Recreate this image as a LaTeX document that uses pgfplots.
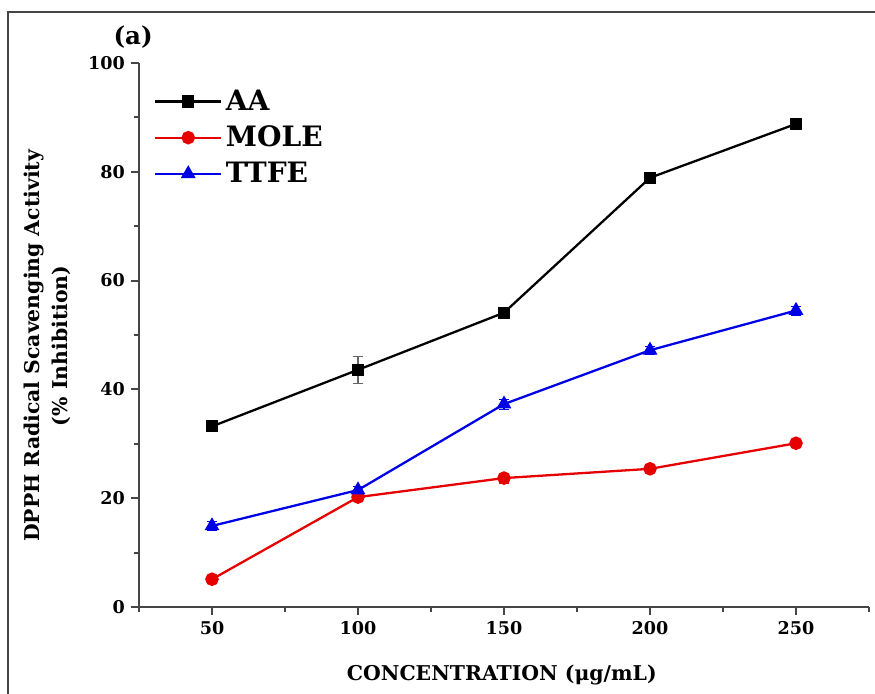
\documentclass[border=0pt]{standalone}
\usepackage{fontspec}
\setmainfont{DejaVu Serif}
\usepackage{pgfplots}
\pgfplotsset{compat=1.18}

\definecolor{aacol}{RGB}{0,0,0}
\definecolor{molecol}{RGB}{230,0,0}
\definecolor{ttfecol}{RGB}{0,0,230}
\definecolor{axcol}{RGB}{70,70,70}

\begin{document}
\begin{tikzpicture}[x=1cm,y=1cm]
% page = 875 x 693 px, 1 px = 0.02 cm, axis origin at px (139,607)
\useasboundingbox (-2.78,-1.72) rectangle (14.72,12.14);
\draw[axcol, line width=1.2pt] (-2.62,-1.8) -- (-2.62,11.9) -- (14.8,11.9);

\begin{axis}[
    scale only axis,
    width=14.6cm,
    height=10.88cm,
    xmin=25, xmax=275,
    ymin=0, ymax=100,
    axis x line*=bottom,
    axis y line*=left,
    axis line style={axcol, line width=1.1pt},
    xtick={50,100,150,200,250},
    minor xtick={25,75,125,175,225,275},
    ytick={0,20,40,60,80,100},
    minor ytick={10,30,50,70,90},
    tick align=outside,
    major tick length=8pt*0.567,
    minor tick length=5pt*0.567,
    tick style={axcol, line width=1.1pt},
    tick label style={font=\bfseries\fontsize{10}{12}\selectfont},
    /pgf/number format/assume math mode=true,
    xlabel={CONCENTRATION (μg/mL)},
    ylabel={DPPH Radical Scavenging Activity\\(\% Inhibition)},
    label style={font=\bfseries\fontsize{11.6}{16}\selectfont},
    xlabel style={at={(axis description cs:0.497,-0.125)}, anchor=center},
    ylabel style={at={(axis description cs:-0.126,0.48)}, anchor=center, align=center, rotate=0},
    legend cell align=left,
    legend style={draw=none, fill=none, at={(axis description cs:0.013,0.964)}, anchor=north west,
        font=\bfseries\fontsize{16}{18}\selectfont, row sep=3.3pt},
    legend image code/.code={\draw[mark repeat=2,mark phase=2,#1] plot coordinates {(0cm,0cm)(0.66cm,0cm)(1.32cm,0cm)};},
    clip=false,
]
\addplot[aacol, line width=1.3pt, mark=square*, mark size=2.8pt,
    error bars/.cd, y dir=both, y explicit, error bar style={line width=0.6pt, color=black!60}, error mark options={rotate=90, mark size=3pt, color=black!60}]
    coordinates {(50,33.2) +- (0,1.0) (100,43.6) +- (0,2.4) (150,54.1) +- (0,0.7) (200,78.9) +- (0,1.0) (250,88.8) +- (0,1.0)};
\addlegendentry{AA}
\addplot[molecol, line width=1.3pt, mark=*, mark size=3.2pt,
    error bars/.cd, y dir=both, y explicit, error bar style={line width=0.6pt}, error mark options={rotate=90, mark size=3pt}]
    coordinates {(50,5.1) +- (0,0.5) (100,20.2) +- (0,0.6) (150,23.7) +- (0,0.9) (200,25.4) +- (0,0.7) (250,30.1) +- (0,0.6)};
\addlegendentry{MOLE}
\addplot[ttfecol, line width=1.3pt, mark=triangle*, mark size=3.6pt,
    error bars/.cd, y dir=both, y explicit, error bar style={line width=0.6pt}, error mark options={rotate=90, mark size=3pt}]
    coordinates {(50,14.9) +- (0,0.8) (100,21.5) +- (0,0.7) (150,37.3) +- (0,0.9) (200,47.2) +- (0,0.8) (250,54.5) +- (0,0.8)};
\addlegendentry{TTFE}
\node[font=\bfseries\fontsize{14}{16}\selectfont, anchor=center] at (axis description cs:-0.008,1.048) {(a)};
\end{axis}
\end{tikzpicture}
\end{document}
